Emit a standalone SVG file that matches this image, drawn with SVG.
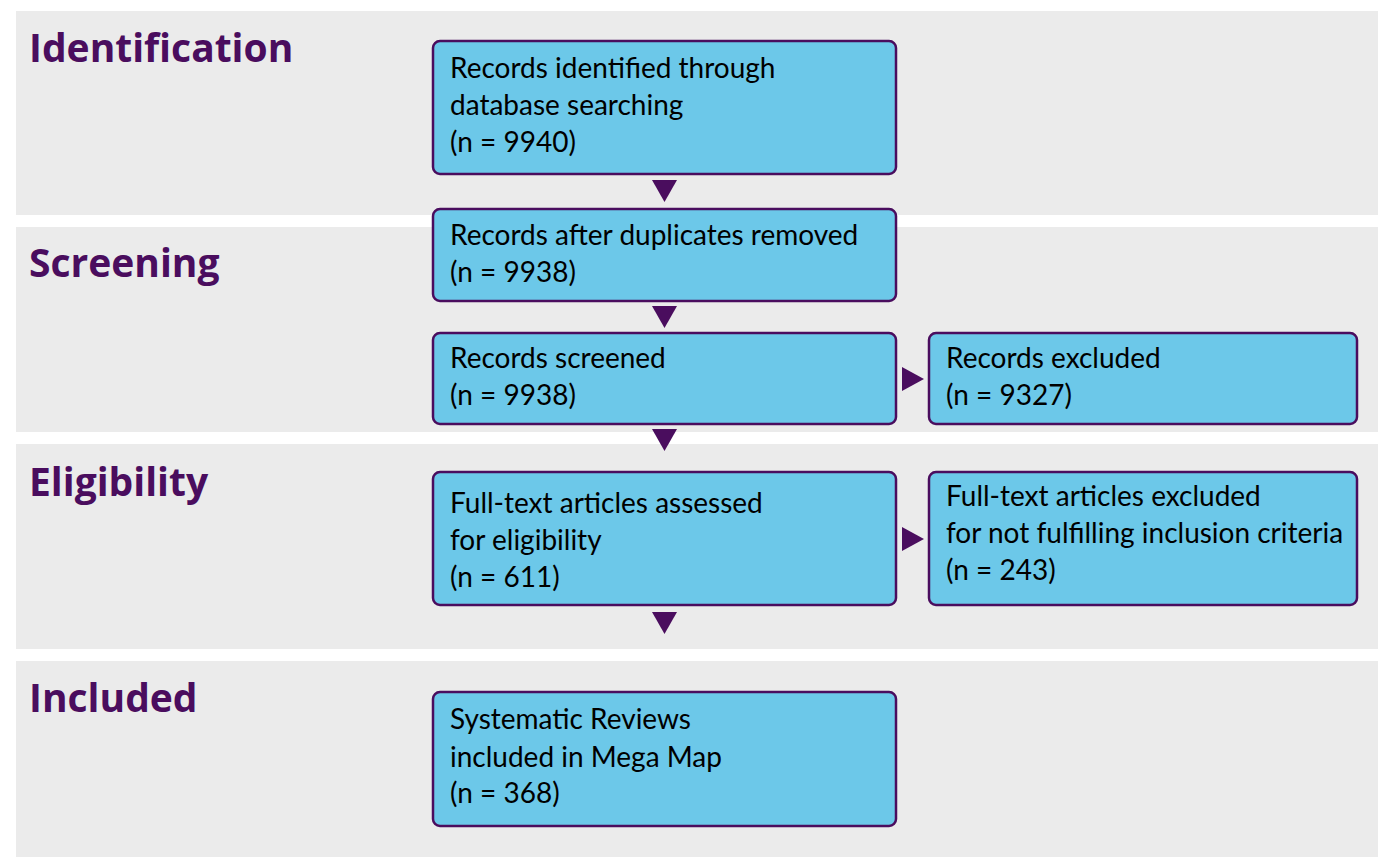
<svg xmlns="http://www.w3.org/2000/svg" width="1378" height="857" viewBox="0 0 1378 857">
<defs>
<style>
.panel{fill:#ebebeb}
.title{font-family:"Open Sans","Noto Sans",sans-serif;font-weight:700;font-size:39px;fill:#4a0d5e}
.box{fill:#6cc8e9;stroke:#4a0d5e;stroke-width:2.5}
.txt{font-family:Lato,"Liberation Sans",sans-serif;font-size:28px;fill:#000}
.arr{fill:#4a0d5e}
</style>
</defs>
<rect width="1378" height="857" fill="#ffffff"/>
<g id="panels">
<rect class="panel" x="16" y="11" width="1362" height="204"/>
<rect class="panel" x="16" y="227" width="1362" height="205"/>
<rect class="panel" x="16" y="444" width="1362" height="205"/>
<rect class="panel" x="16" y="661" width="1362" height="196"/>
</g>
<g id="titles">
<text class="title" x="29" y="62">Identification</text>
<text class="title" x="29" y="277">Screening</text>
<text class="title" x="29" y="496">Eligibility</text>
<text class="title" x="29" y="712">Included</text>
</g>
<g id="identified">
<rect class="box" x="433" y="41" width="463" height="133" rx="7"/>
<text class="txt" x="450" y="78">Records identified through</text>
<text class="txt" x="450" y="115">database searching</text>
<text class="txt" x="450" y="152">(n = 9940)</text>
</g>
<g id="duplicates">
<rect class="box" x="433" y="209" width="463" height="92" rx="7"/>
<text class="txt" x="450" y="245">Records after duplicates removed</text>
<text class="txt" x="450" y="282">(n = 9938)</text>
</g>
<g id="screened">
<rect class="box" x="433" y="333" width="463" height="91" rx="7"/>
<text class="txt" x="450" y="368">Records screened</text>
<text class="txt" x="450" y="405">(n = 9938)</text>
</g>
<g id="excluded">
<rect class="box" x="929" y="333" width="428" height="91" rx="7"/>
<text class="txt" x="946" y="368">Records excluded</text>
<text class="txt" x="946" y="405">(n = 9327)</text>
</g>
<g id="fulltext">
<rect class="box" x="433" y="472" width="463" height="133" rx="7"/>
<text class="txt" x="450" y="513">Full-text articles assessed</text>
<text class="txt" x="450" y="550">for eligibility</text>
<text class="txt" x="450" y="587">(n = 611)</text>
</g>
<g id="ftexcluded">
<rect class="box" x="929" y="472" width="428" height="133" rx="7"/>
<text class="txt" x="946" y="506">Full-text articles excluded</text>
<text class="txt" x="946" y="543">for not fulfilling inclusion criteria</text>
<text class="txt" x="946" y="580">(n = 243)</text>
</g>
<g id="included">
<rect class="box" x="433" y="692" width="463" height="134" rx="7"/>
<text class="txt" x="450" y="729">Systematic Reviews</text>
<text class="txt" x="450" y="767">included in Mega Map</text>
<text class="txt" x="450" y="803">(n = 368)</text>
</g>
<g id="connectors">
<polygon class="arr" points="652,180 677,180 664.5,202"/>
<polygon class="arr" points="652,306 677,306 664.5,328"/>
<polygon class="arr" points="652,429 677,429 664.5,451"/>
<polygon class="arr" points="652,612 677,612 664.5,634"/>
<polygon class="arr" points="902,367 902,391 924,379"/>
<polygon class="arr" points="902,527 902,551 924,539"/>
</g>
</svg>
